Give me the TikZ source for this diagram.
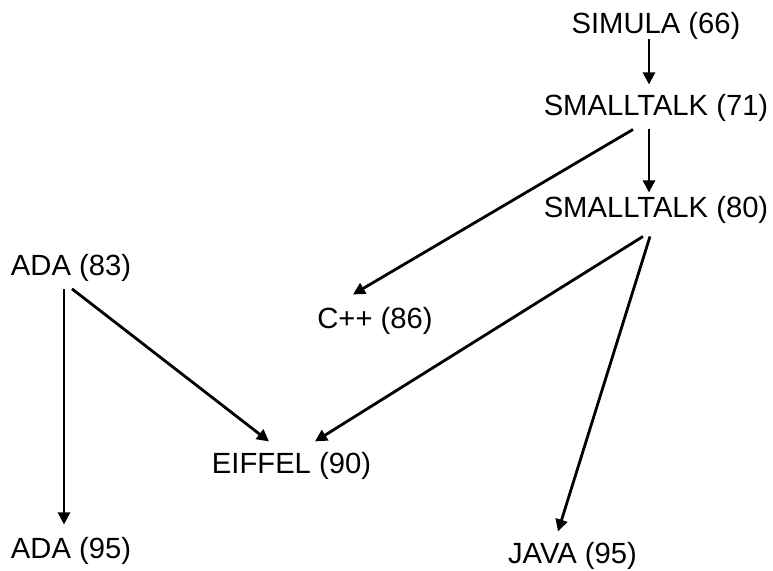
\documentclass[tikz,border=0pt]{standalone}
\usepackage{fontspec}
\setmainfont{Liberation Sans}
\usetikzlibrary{arrows.meta}

\begin{document}
\begin{tikzpicture}[x=0.5pt, y=-0.5pt,
        lang/.style={anchor=base, inner sep=2pt, font=\fontsize{14.6}{17}\selectfont},
        arr/.style={-{Triangle[length=6pt, width=6pt]}, line width=1.4pt}]
        \useasboundingbox (0,0) rectangle (773,570);

        % Languages
        \node[lang] (simula) at (656,33) {SIMULA (66)};
        \node[lang] (st71) at (656,115) {SMALLTALK (71)};
        \node[lang] (st80) at (656,217) {SMALLTALK (80)};
        \node[lang] (ada83) at (71,275) {ADA (83)};
        \node[lang] (cpp) at (375,328) {C++ (86)};
        \node[lang] (eiffel) at (291.5,473) {EIFFEL (90)};
        \node[lang] (ada95) at (71,558) {ADA (95)};
        \node[lang] (java) at (572.5,563) {JAVA (95)};

        % Smalltalk line
        \draw[arr] ([xshift=-3.5pt, yshift=2pt]simula.south) -- ([xshift=-3.5pt, yshift=2.5pt]st71.north);
        \draw[arr] ([xshift=-3.5pt, yshift=-2pt]st71.south) -- ([xshift=-3.5pt, yshift=-0.5pt]st80.north);
        \draw[arr] ([xshift=-11.5pt, yshift=-2pt]st71.south) -- ([xshift=-11pt, yshift=4pt]cpp.north);
        \draw[arr] ([xshift=-6.5pt, yshift=-4.5pt]st80.south) -- ([xshift=11.75pt, yshift=3pt]eiffel.north);
        \draw[arr] ([xshift=-3pt, yshift=-4.5pt]st80.south) -- ([xshift=-7.25pt, yshift=3pt]java.north);

        % Ada line
        \draw[arr] ([xshift=-3.5pt, yshift=-1.7pt]ada83.south) -- ([xshift=-3.5pt, yshift=4pt]ada95.north);
        \draw[arr] ([xshift=0.5pt, yshift=-1.7pt]ada83.south) -- ([xshift=-11.25pt, yshift=3pt]eiffel.north);
\end{tikzpicture}
\end{document}
